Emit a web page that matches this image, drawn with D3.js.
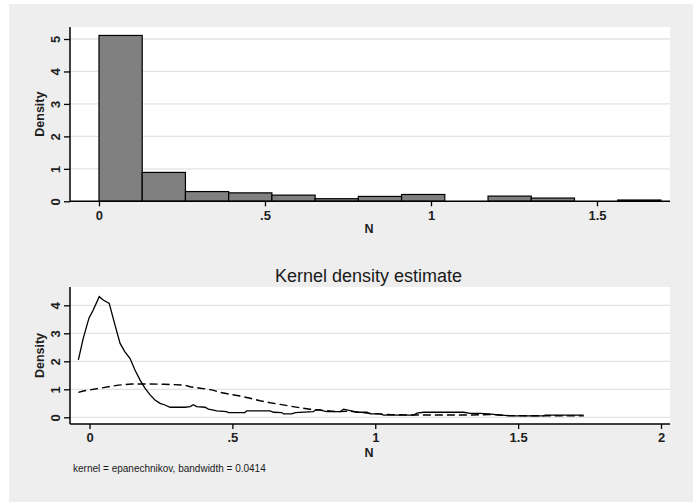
<!DOCTYPE html>
<html>
<head>
<meta charset="utf-8">
<script src="https://cdn.jsdelivr.net/npm/d3@7"></script>
<style>
  html, body { margin: 0; padding: 0; background: #ffffff; }
  svg { display: block; }
  text { font-family: "Liberation Sans", Arial, sans-serif; }
</style>
</head>
<body>
<script>
// ---------- data ----------
const histBinLeft  = [0, 0.1302, 0.2604, 0.3906, 0.5208, 0.6510, 0.7812, 0.9114, 1.0416, 1.1718, 1.3020, 1.4322, 1.5624];
const histBinRight = [0.1302, 0.2604, 0.3906, 0.5208, 0.6510, 0.7812, 0.9114, 1.0416, 1.1718, 1.3020, 1.4322, 1.5624, 1.6926];
const histDensity  = [5.11, 0.89, 0.30, 0.26, 0.19, 0.08, 0.15, 0.21, 0, 0.16, 0.10, 0, 0.04];
const histXTicks = [0, 0.5, 1, 1.5];
const histXTickLabels = ["0", ".5", "1", "1.5"];
const histYTicks = [0, 1, 2, 3, 4, 5];

const kdeX = [-0.039, -0.022, -0.002, 0.013, 0.034, 0.048, 0.069, 0.089, 0.107, 0.124, 0.142, 0.159, 0.177, 0.194, 0.212, 0.229, 0.247, 0.264, 0.282, 0.334, 0.352, 0.363, 0.375, 0.404, 0.416, 0.434, 0.445, 0.48, 0.486, 0.544, 0.55, 0.632, 0.644, 0.673, 0.679, 0.708, 0.72, 0.784, 0.79, 0.807, 0.83, 0.877, 0.889, 0.912, 0.936, 0.971, 0.982, 1.017, 1.029, 1.134, 1.146, 1.169, 1.309, 1.332, 1.367, 1.396, 1.472, 1.589, 1.595, 1.729];
const kdeY = [2.05, 2.82, 3.54, 3.83, 4.31, 4.19, 4.07, 3.3, 2.64, 2.34, 2.1, 1.69, 1.33, 1.04, 0.80, 0.62, 0.5, 0.44, 0.36, 0.36, 0.38, 0.45, 0.38, 0.36, 0.29, 0.26, 0.23, 0.2, 0.17, 0.17, 0.23, 0.23, 0.18, 0.17, 0.12, 0.12, 0.17, 0.2, 0.26, 0.26, 0.2, 0.2, 0.29, 0.24, 0.18, 0.18, 0.12, 0.12, 0.08, 0.08, 0.15, 0.18, 0.18, 0.14, 0.14, 0.12, 0.05, 0.05, 0.08, 0.08];

const refX = [-0.039, -0.022, 0.031, 0.101, 0.148, 0.206, 0.264, 0.334, 0.352, 0.387, 0.428, 0.457, 0.492, 0.527, 0.562, 0.597, 0.632, 0.667, 0.702, 0.737, 0.772, 0.807, 0.865, 0.912, 0.97, 1.05, 1.15, 1.33, 1.40, 1.47, 1.73];
const refY = [0.89, 0.94, 1.03, 1.15, 1.19, 1.19, 1.18, 1.15, 1.09, 1.04, 0.98, 0.89, 0.82, 0.76, 0.68, 0.59, 0.52, 0.46, 0.40, 0.34, 0.29, 0.26, 0.2, 0.22, 0.15, 0.1, 0.08, 0.08, 0.1, 0.06, 0.05];

const kdeXTicks = [0, 0.5, 1, 1.5, 2];
const kdeXTickLabels = ["0", ".5", "1", "1.5", "2"];
const kdeYTicks = [0, 1, 2, 3, 4];

const titleText = "Kernel density estimate";
const noteText = "kernel = epanechnikov, bandwidth = 0.0414";
const xTitle = "N";
const yTitle = "Density";

// ---------- drawing ----------
const W = 699, H = 502;
const svg = d3.select("body").append("svg").attr("width", W).attr("height", H);
svg.append("rect").attr("width", W).attr("height", H).attr("fill", "#ffffff");
svg.append("rect").attr("x", 9).attr("y", 4).attr("width", 684).attr("height", 498).attr("fill", "#eeeeee");

const L = 70, R = 670;
const gridColor = "#e3e3e3";
const labelColor = "#1e1e1e";

function panel(opts) {
  const g = svg.append("g");
  const x = d3.scaleLinear().domain(opts.xDomain).range([L, R]);
  const y = d3.scaleLinear().domain(opts.yDomain).range([opts.bottom, opts.top]);
  g.append("rect").attr("x", L).attr("y", opts.top).attr("width", R - L).attr("height", opts.axisY - opts.top).attr("fill", "#ffffff");
  g.selectAll("line.grid").data(opts.yTicks.filter(opts.gridFilter)).join("line")
    .attr("x1", L).attr("x2", R).attr("y1", d => y(d)).attr("y2", d => y(d))
    .attr("stroke", gridColor).attr("stroke-width", 1.3);
  return { g, x, y };
}

function axes(p, opts) {
  const { g, x, y } = p;
  const ya = g.append("g").attr("transform", `translate(${L},0)`)
    .call(d3.axisLeft(y).tickValues(opts.yTicks).tickSize(6).tickPadding(9).tickFormat(d3.format("d")));
  ya.select(".domain").attr("d", `M0,${opts.top}V${opts.axisY}`).attr("stroke", "#000").attr("stroke-width", 1.5);
  ya.selectAll(".tick line").attr("stroke", "#000").attr("stroke-width", 1.3);
  ya.selectAll(".tick text")
    .attr("x", null).attr("dy", null)
    .attr("text-anchor", "middle")
    .attr("transform", "translate(-15,0) rotate(-90)")
    .attr("dy", "0.36em")
    .attr("font-size", 13).attr("font-weight", "bold")
    .attr("font-family", "Liberation Sans, Arial, sans-serif").attr("fill", labelColor);
  const xa = g.append("g").attr("transform", `translate(0,${opts.axisY})`)
    .call(d3.axisBottom(x).tickValues(opts.xTicks).tickSize(5).tickPadding(4).tickFormat((d, i) => opts.xTickLabels[i]));
  xa.select(".domain").attr("d", `M${L},0H${R}`).attr("stroke", "#000").attr("stroke-width", 1.5);
  xa.selectAll(".tick line").attr("stroke", "#000").attr("stroke-width", 1.3);
  xa.selectAll(".tick text")
    .attr("font-size", 13).attr("font-weight", "bold")
    .attr("font-family", "Liberation Sans, Arial, sans-serif").attr("fill", labelColor);
  g.append("text").attr("x", 369).attr("y", opts.xTitleY).attr("text-anchor", "middle")
    .attr("font-size", 12.5).attr("font-weight", "bold").attr("fill", labelColor).text(xTitle);
  g.append("text").attr("transform", `translate(44,${(opts.top + opts.axisY) / 2}) rotate(-90)`)
    .attr("text-anchor", "middle").attr("font-size", 12.5).attr("font-weight", "bold")
    .attr("fill", labelColor).text(yTitle);
}

// ---- top panel: histogram ----
const topOpts = {
  xDomain: [-0.0873, 1.7199], yDomain: [0, 5.37],
  top: 27, bottom: 201.3, axisY: 201.3,
  yTicks: histYTicks, xTicks: histXTicks, xTickLabels: histXTickLabels,
  gridFilter: d => d > 0, xTitleY: 233
};
const p1 = panel(topOpts);
const bins = histDensity.map((v, i) => ({ x0: histBinLeft[i], x1: histBinRight[i], v }));
p1.g.selectAll("rect.bar").data(bins.filter(b => b.v > 0)).join("rect")
  .attr("x", d => p1.x(d.x0)).attr("width", d => p1.x(d.x1) - p1.x(d.x0))
  .attr("y", d => p1.y(d.v)).attr("height", d => p1.y(0) - p1.y(d.v))
  .attr("fill", "#808080").attr("stroke", "#000").attr("stroke-width", 1.2);
axes(p1, topOpts);

// ---- bottom panel: kernel density ----
const botOpts = {
  xDomain: [-0.0683, 2.0315], yDomain: [-0.239, 4.654],
  top: 287, bottom: 424, axisY: 424,
  yTicks: kdeYTicks, xTicks: kdeXTicks, xTickLabels: kdeXTickLabels,
  gridFilter: d => true, xTitleY: 457
};
const p2 = panel(botOpts);
const line = d3.line().x(d => p2.x(d[0])).y(d => p2.y(d[1]));
p2.g.append("path").datum(refX.map((v, i) => [v, refY[i]]))
  .attr("d", line).attr("fill", "none").attr("stroke", "#000").attr("stroke-width", 1.4)
  .attr("stroke-dasharray", "8,4");
p2.g.append("path").datum(kdeX.map((v, i) => [v, kdeY[i]]))
  .attr("d", line).attr("fill", "none").attr("stroke", "#000").attr("stroke-width", 1.3);
axes(p2, botOpts);

svg.append("text").attr("x", 368.5).attr("y", 281.5).attr("text-anchor", "middle")
  .attr("font-size", 18).attr("fill", "#1a1a1a").text(titleText);
svg.append("text").attr("x", 73).attr("y", 471.5)
  .attr("font-size", 10).attr("fill", "#1a1a1a").text(noteText);
</script>
</body>
</html>
